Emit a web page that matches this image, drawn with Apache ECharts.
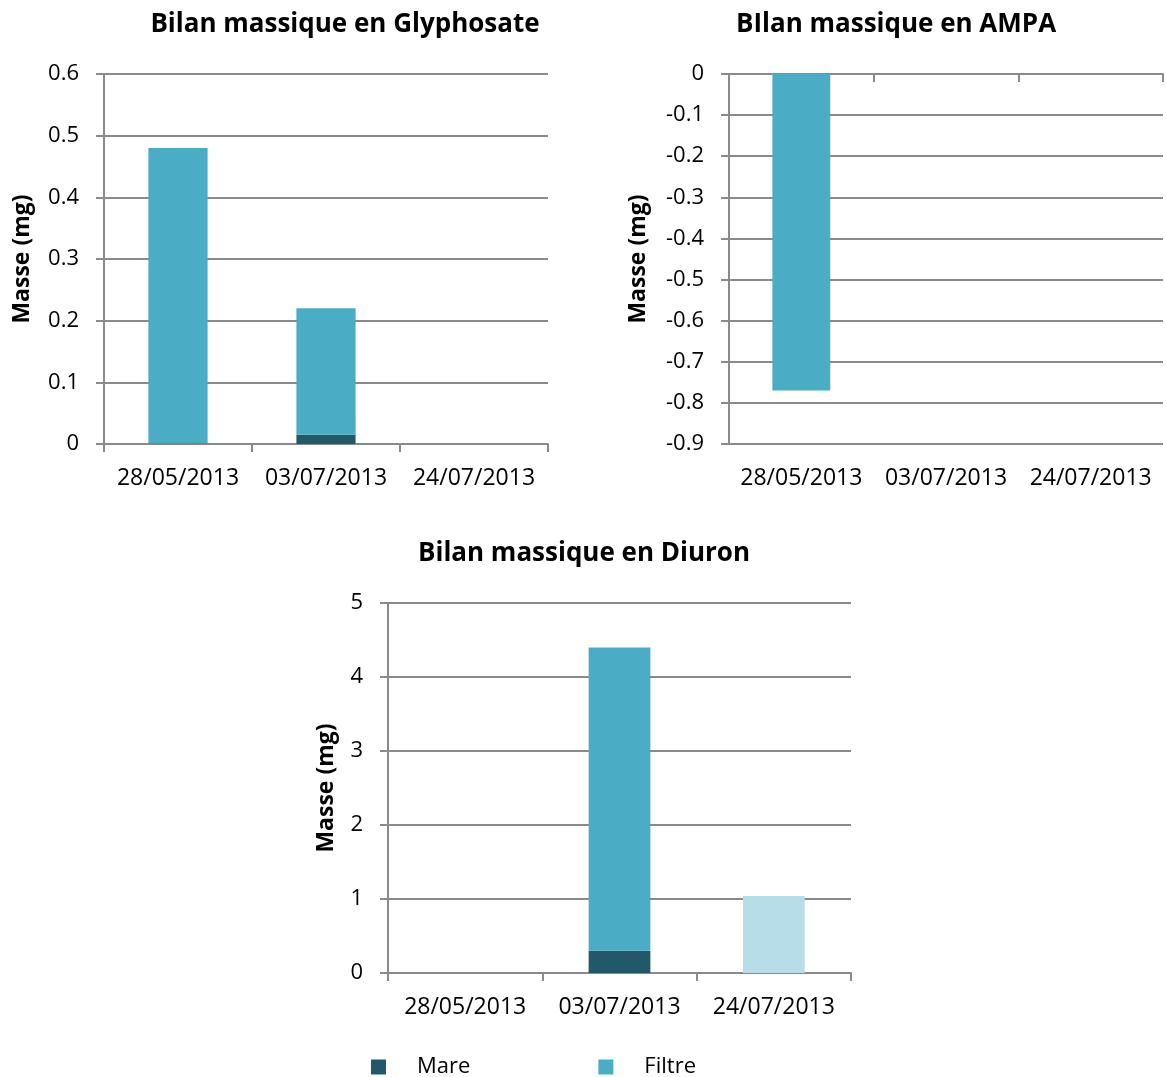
<!DOCTYPE html>
<html>
<head>
<meta charset="utf-8">
<script src="https://cdn.jsdelivr.net/npm/echarts@6/dist/echarts.min.js"></script>
<style>html,body{margin:0;padding:0;background:#fff}#c{width:1166px;height:1077px}</style>
</head>
<body>
<div id="c"></div>
<script>
var categories = ['28/05/2013', '03/07/2013', '24/07/2013'];
var seriesNames = ['Mare', 'Filtre'];
var titles = ['Bilan massique en Glyphosate', 'BIlan massique en AMPA', 'Bilan massique en Diuron'];
var yName = 'Masse (mg)';

var glyMare = [0.001, 0.015, 0];
var glyFiltre = [0.479, 0.205, 0];
var ampaMare = [0, 0, 0];
var ampaFiltre = [-0.77, 0, 0];
var diuMare = [0, 0.3, 0];
var diuFiltre = [0, 4.1, 1.04];

var glyTicks = [0, 0.6, 0.1];
var ampaTicks = [-0.9, 0, 0.1];
var diuTicks = [0, 5, 1];

var C_MARE = '#215968', C_FILTRE = '#4BACC6', C_LIGHT = '#B7DDE8';
var FONT = 'Open Sans';
var GRAY = '#8a8a8a';

var chart = echarts.init(document.getElementById('c'), null, {renderer: 'canvas'});

var grids = [
  {left: 104, top: 74, width: 444, height: 370},
  {left: 729, top: 74, width: 434, height: 370},
  {left: 388, top: 603, width: 463, height: 370}
];

function xAx(gi, opts) {
  var base = {
    type: 'category', gridIndex: gi, data: categories,
    axisLine: {show: true, onZero: true, lineStyle: {color: GRAY, width: 2}},
    axisTick: {show: true, length: 8, lineStyle: {color: GRAY, width: 2}},
    axisLabel: {color: '#000', fontSize: 23, fontFamily: FONT, margin: 23, interval: 0},
    splitLine: {show: false}
  };
  return Object.assign(base, opts || {});
}
function yAx(gi, t, gap) {
  return {
    type: 'value', gridIndex: gi, min: t[0], max: t[1], interval: t[2],
    name: yName, nameLocation: 'middle', nameGap: gap, nameRotate: 90,
    nameTextStyle: {color: '#000', fontSize: 23, fontWeight: 'bold', fontFamily: FONT},
    axisLine: {show: true, lineStyle: {color: GRAY, width: 2}},
    axisTick: {show: true, length: 8, lineStyle: {color: GRAY, width: 2}},
    axisLabel: {color: '#000', fontSize: 22, fontFamily: FONT, margin: 25},
    splitLine: {show: true, lineStyle: {color: GRAY, width: 2}}
  };
}

function stackSeries(xi, yi, mare, filtre, stackId, filtreColors) {
  return [
    {name: seriesNames[0], type: 'bar', xAxisIndex: xi, yAxisIndex: yi, stack: stackId,
     barWidth: '40%', itemStyle: {color: C_MARE}, data: mare},
    {name: seriesNames[1], type: 'bar', xAxisIndex: xi, yAxisIndex: yi, stack: stackId,
     barWidth: '40%', itemStyle: {color: C_FILTRE},
     data: filtre.map(function (v, i) {
       return filtreColors && filtreColors[i] ? {value: v, itemStyle: {color: filtreColors[i]}} : v;
     })}
  ];
}

var titleStyle = {fontSize: 26, fontWeight: 'bold', fontFamily: FONT, color: '#000'};
var option = {
  backgroundColor: '#fff',
  animation: false,
  title: [
    {text: titles[0], left: 340, top: 7, textAlign: 'center', textStyle: titleStyle},
    {text: titles[1], left: 891, top: 7, textAlign: 'center', textStyle: titleStyle},
    {text: titles[2], left: 579, top: 536, textAlign: 'center', textStyle: titleStyle}
  ],
  legend: {
    data: seriesNames, left: 366, top: 1051, icon: 'rect', itemWidth: 15, itemHeight: 15,
    itemGap: 128,
    textStyle: {fontSize: 22, fontFamily: FONT, color: '#000', padding: [0, 0, 0, 26]}
  },
  grid: grids,
  xAxis: [
    xAx(0),
    xAx(1, {axisLabel: {show: false}}),
    xAx(1, {position: 'bottom', axisLine: {show: false, onZero: false}, axisTick: {show: false}}),
    xAx(2)
  ],
  yAxis: [yAx(0, glyTicks, 70), yAx(1, ampaTicks, 79), yAx(2, diuTicks, 50)],
  series: [].concat(
    stackSeries(0, 0, glyMare, glyFiltre, 'g'),
    stackSeries(1, 1, ampaMare, ampaFiltre, 'a'),
    stackSeries(3, 2, diuMare, diuFiltre, 'd', [null, null, C_LIGHT])
  )
};
chart.setOption(option);
</script>
</body>
</html>
